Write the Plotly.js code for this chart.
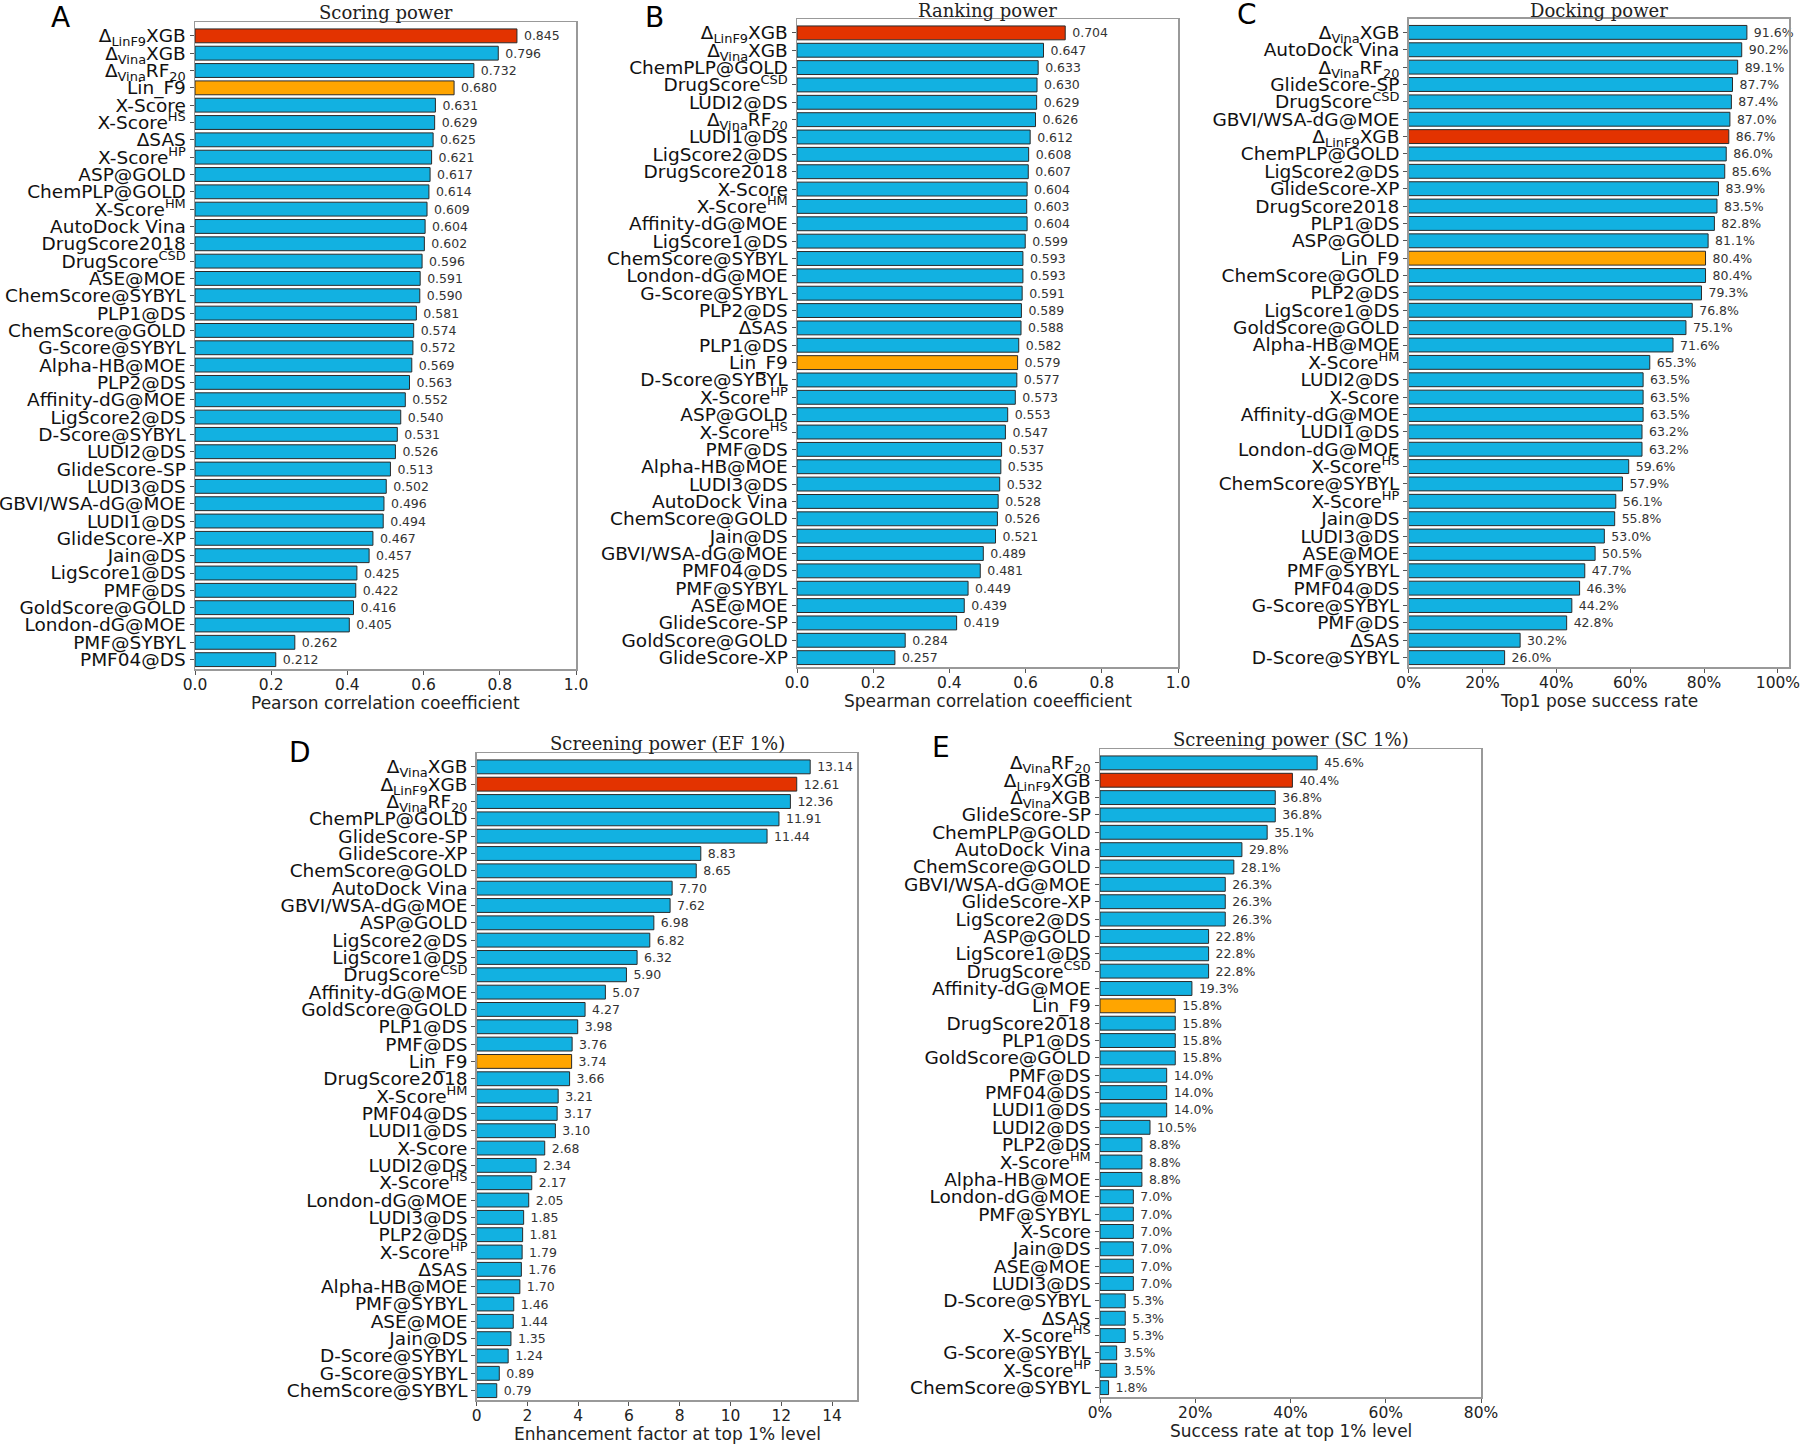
<!DOCTYPE html>
<html>
<head>
<meta charset="utf-8">
<script src="https://cdn.plot.ly/plotly-3.0.1.min.js"></script>
<style>html,body{margin:0;padding:0;background:#fff;}#chart{width:1800px;height:1444px;}</style>
</head>
<body>
<div id="chart"></div>
<script>
// ---------- DATA ----------
const catsA = ['Δ<sub>LinF9</sub>XGB','Δ<sub>Vina</sub>XGB','Δ<sub>Vina</sub>RF<sub>20</sub>','Lin_F9','X-Score','X-Score<sup>HS</sup>','ΔSAS','X-Score<sup>HP</sup>','ASP@GOLD','ChemPLP@GOLD','X-Score<sup>HM</sup>','AutoDock Vina','DrugScore2018','DrugScore<sup>CSD</sup>','ASE@MOE','ChemScore@SYBYL','PLP1@DS','ChemScore@GOLD','G-Score@SYBYL','Alpha-HB@MOE','PLP2@DS','Affinity-dG@MOE','LigScore2@DS','D-Score@SYBYL','LUDI2@DS','GlideScore-SP','LUDI3@DS','GBVI/WSA-dG@MOE','LUDI1@DS','GlideScore-XP','Jain@DS','LigScore1@DS','PMF@DS','GoldScore@GOLD','London-dG@MOE','PMF@SYBYL','PMF04@DS'];
const valsA = [0.845,0.796,0.732,0.680,0.631,0.629,0.625,0.621,0.617,0.614,0.609,0.604,0.602,0.596,0.591,0.590,0.581,0.574,0.572,0.569,0.563,0.552,0.540,0.531,0.526,0.513,0.502,0.496,0.494,0.467,0.457,0.425,0.422,0.416,0.405,0.262,0.212];

const catsB = ['Δ<sub>LinF9</sub>XGB','Δ<sub>Vina</sub>XGB','ChemPLP@GOLD','DrugScore<sup>CSD</sup>','LUDI2@DS','Δ<sub>Vina</sub>RF<sub>20</sub>','LUDI1@DS','LigScore2@DS','DrugScore2018','X-Score','X-Score<sup>HM</sup>','Affinity-dG@MOE','LigScore1@DS','ChemScore@SYBYL','London-dG@MOE','G-Score@SYBYL','PLP2@DS','ΔSAS','PLP1@DS','Lin_F9','D-Score@SYBYL','X-Score<sup>HP</sup>','ASP@GOLD','X-Score<sup>HS</sup>','PMF@DS','Alpha-HB@MOE','LUDI3@DS','AutoDock Vina','ChemScore@GOLD','Jain@DS','GBVI/WSA-dG@MOE','PMF04@DS','PMF@SYBYL','ASE@MOE','GlideScore-SP','GoldScore@GOLD','GlideScore-XP'];
const valsB = [0.704,0.647,0.633,0.630,0.629,0.626,0.612,0.608,0.607,0.604,0.603,0.604,0.599,0.593,0.593,0.591,0.589,0.588,0.582,0.579,0.577,0.573,0.553,0.547,0.537,0.535,0.532,0.528,0.526,0.521,0.489,0.481,0.449,0.439,0.419,0.284,0.257];

const catsC = ['Δ<sub>Vina</sub>XGB','AutoDock Vina','Δ<sub>Vina</sub>RF<sub>20</sub>','GlideScore-SP','DrugScore<sup>CSD</sup>','GBVI/WSA-dG@MOE','Δ<sub>LinF9</sub>XGB','ChemPLP@GOLD','LigScore2@DS','GlideScore-XP','DrugScore2018','PLP1@DS','ASP@GOLD','Lin_F9','ChemScore@GOLD','PLP2@DS','LigScore1@DS','GoldScore@GOLD','Alpha-HB@MOE','X-Score<sup>HM</sup>','LUDI2@DS','X-Score','Affinity-dG@MOE','LUDI1@DS','London-dG@MOE','X-Score<sup>HS</sup>','ChemScore@SYBYL','X-Score<sup>HP</sup>','Jain@DS','LUDI3@DS','ASE@MOE','PMF@SYBYL','PMF04@DS','G-Score@SYBYL','PMF@DS','ΔSAS','D-Score@SYBYL'];
const valsC = [91.6,90.2,89.1,87.7,87.4,87.0,86.7,86.0,85.6,83.9,83.5,82.8,81.1,80.4,80.4,79.3,76.8,75.1,71.6,65.3,63.5,63.5,63.5,63.2,63.2,59.6,57.9,56.1,55.8,53.0,50.5,47.7,46.3,44.2,42.8,30.2,26.0];

const catsD = ['Δ<sub>Vina</sub>XGB','Δ<sub>LinF9</sub>XGB','Δ<sub>Vina</sub>RF<sub>20</sub>','ChemPLP@GOLD','GlideScore-SP','GlideScore-XP','ChemScore@GOLD','AutoDock Vina','GBVI/WSA-dG@MOE','ASP@GOLD','LigScore2@DS','LigScore1@DS','DrugScore<sup>CSD</sup>','Affinity-dG@MOE','GoldScore@GOLD','PLP1@DS','PMF@DS','Lin_F9','DrugScore2018','X-Score<sup>HM</sup>','PMF04@DS','LUDI1@DS','X-Score','LUDI2@DS','X-Score<sup>HS</sup>','London-dG@MOE','LUDI3@DS','PLP2@DS','X-Score<sup>HP</sup>','ΔSAS','Alpha-HB@MOE','PMF@SYBYL','ASE@MOE','Jain@DS','D-Score@SYBYL','G-Score@SYBYL','ChemScore@SYBYL'];
const valsD = [13.14,12.61,12.36,11.91,11.44,8.83,8.65,7.70,7.62,6.98,6.82,6.32,5.90,5.07,4.27,3.98,3.76,3.74,3.66,3.21,3.17,3.10,2.68,2.34,2.17,2.05,1.85,1.81,1.79,1.76,1.70,1.46,1.44,1.35,1.24,0.89,0.79];

const catsE = ['Δ<sub>Vina</sub>RF<sub>20</sub>','Δ<sub>LinF9</sub>XGB','Δ<sub>Vina</sub>XGB','GlideScore-SP','ChemPLP@GOLD','AutoDock Vina','ChemScore@GOLD','GBVI/WSA-dG@MOE','GlideScore-XP','LigScore2@DS','ASP@GOLD','LigScore1@DS','DrugScore<sup>CSD</sup>','Affinity-dG@MOE','Lin_F9','DrugScore2018','PLP1@DS','GoldScore@GOLD','PMF@DS','PMF04@DS','LUDI1@DS','LUDI2@DS','PLP2@DS','X-Score<sup>HM</sup>','Alpha-HB@MOE','London-dG@MOE','PMF@SYBYL','X-Score','Jain@DS','ASE@MOE','LUDI3@DS','D-Score@SYBYL','ΔSAS','X-Score<sup>HS</sup>','G-Score@SYBYL','X-Score<sup>HP</sup>','ChemScore@SYBYL'];
const valsE = [45.6,40.4,36.8,36.8,35.1,29.8,28.1,26.3,26.3,26.3,22.8,22.8,22.8,19.3,15.8,15.8,15.8,15.8,14.0,14.0,14.0,10.5,8.8,8.8,8.8,7.0,7.0,7.0,7.0,7.0,7.0,5.3,5.3,5.3,3.5,3.5,1.8];

const ticksA = [0, 0.2, 0.4, 0.6, 0.8, 1.0];
const ticksB = [0, 0.2, 0.4, 0.6, 0.8, 1.0];
const ticksC = [0, 20, 40, 60, 80, 100];
const ticksD = [0, 2, 4, 6, 8, 10, 12, 14];
const ticksE = [0, 20, 40, 60, 80];

const titles = ['Scoring power','Ranking power','Docking power','Screening power (EF 1%)','Screening power (SC 1%)'];
const xTitles = ['Pearson correlation coeefficient','Spearman correlation coeefficient','Top1 pose success rate','Enhancement factor at top 1% level','Success rate at top 1% level'];
const letters = ['A','B','C','D','E'];

// ---------- LAYOUT CONFIG ----------
const W = 1800, H = 1444;
const px = x => x / W;
const py = y => 1 - y / H;
const BLUE = '#12B1E1', RED = '#E33300', ORANGE = '#FFA500';

const fmt1 = v => v.toFixed(1);
const fmtInt = v => String(v);
const fmtPct = v => v + '%';

const panels = [
  {cats: catsA, vals: valsA, box: [195, 22, 576, 669], range: [0, 1], ticks: ticksA, tfmt: fmt1, tt: '\u00a0%{x:.3f}', letter: [60, 17]},
  {cats: catsB, vals: valsB, box: [797, 19, 1178, 667], range: [0, 1], ticks: ticksB, tfmt: fmt1, tt: '\u00a0%{x:.3f}', letter: [654, 17]},
  {cats: catsC, vals: valsC, box: [1408.6, 18.5, 1789, 667], range: [0, 103], ticks: ticksC, tfmt: fmtPct, tt: '\u00a0%{x:.1f}%', letter: [1247, 15]},
  {cats: catsD, vals: valsD, box: [476.7, 753, 857.4, 1400], range: [0, 15], ticks: ticksD, tfmt: fmtInt, tt: '\u00a0%{x:.2f}', letter: [300, 752]},
  {cats: catsE, vals: valsE, box: [1100, 749, 1481, 1397], range: [0, 80], ticks: ticksE, tfmt: fmtPct, tt: '\u00a0%{x:.1f}%', letter: [941, 747]}
];

const data = [];
const layout = {
  width: W, height: H,
  margin: {l: 0, r: 0, t: 0, b: 0},
  paper_bgcolor: '#fff', plot_bgcolor: '#fff',
  showlegend: false,
  font: {family: 'DejaVu Sans', color: '#111'},
  annotations: []
};

panels.forEach((p, i) => {
  const n = i + 1;
  const sfx = n === 1 ? '' : String(n);
  const colors = p.cats.map(c => c === 'Δ<sub>LinF9</sub>XGB' ? RED : (c === 'Lin_F9' ? ORANGE : BLUE));
  data.push({
    type: 'bar', orientation: 'h',
    x: p.vals, y: p.cats,
    xaxis: 'x' + sfx, yaxis: 'y' + sfx,
    width: 0.8,
    marker: {color: colors, line: {color: '#2a2a2a', width: 1}},
    texttemplate: p.tt,
    textposition: 'outside',
    constraintext: 'none',
    cliponaxis: false,
    textfont: {family: 'DejaVu Sans', size: 12.5, color: '#333'},
    hoverinfo: 'skip'
  });
  const [x0, y0, x1, y1] = p.box;
  layout['xaxis' + sfx] = {
    domain: [px(x0), px(x1)],
    anchor: 'y' + sfx,
    range: p.range,
    tickmode: 'array',
    tickvals: p.ticks,
    ticktext: p.ticks.map(p.tfmt),
    ticks: 'outside', ticklen: 4, tickcolor: '#555', tickwidth: 1,
    ticklabelstandoff: -3,
    ticklabeloverflow: 'allow',
    tickfont: {family: 'DejaVu Sans', size: 15.5, color: '#222'},
    showgrid: false, zeroline: false,
    showline: true, linecolor: '#999', linewidth: 1.5, mirror: true,
    fixedrange: true
  };
  layout['yaxis' + sfx] = {
    domain: [py(y1), py(y0)],
    anchor: 'x' + sfx,
    type: 'category',
    range: [p.cats.length - 1 + 0.54, -0.8],
    tickmode: 'array',
    tickvals: p.cats,
    ticktext: p.cats,
    ticks: 'outside', ticklen: 4, tickcolor: '#555', tickwidth: 1,
    tickfont: {family: 'DejaVu Sans', size: 18.5, color: '#111'},
    showgrid: false, zeroline: false,
    showline: true, linecolor: '#999', linewidth: 1.5, mirror: true,
    fixedrange: true
  };
  // panel title
  layout.annotations.push({
    xref: 'paper', yref: 'paper', x: px((x0 + x1) / 2), y: py(Math.max(y0 - 10, 10.5)),
    xanchor: 'center', yanchor: 'middle', showarrow: false,
    text: titles[i], font: {family: 'DejaVu Serif', size: 18, color: '#222'}
  });
  // x axis title
  layout.annotations.push({
    xref: 'paper', yref: 'paper', x: px((x0 + x1) / 2), y: py(y1 + 34),
    xanchor: 'center', yanchor: 'middle', showarrow: false,
    text: xTitles[i], font: {family: 'DejaVu Sans', size: 17, color: '#222'}
  });
  // panel letter
  layout.annotations.push({
    xref: 'paper', yref: 'paper', x: px(p.letter[0]), y: py(p.letter[1]),
    xanchor: 'center', yanchor: 'middle', showarrow: false,
    text: letters[i], font: {family: 'DejaVu Sans', size: 28, color: '#000'}
  });
});

Plotly.newPlot('chart', data, layout, {staticPlot: true, displayModeBar: false});
</script>
</body>
</html>
